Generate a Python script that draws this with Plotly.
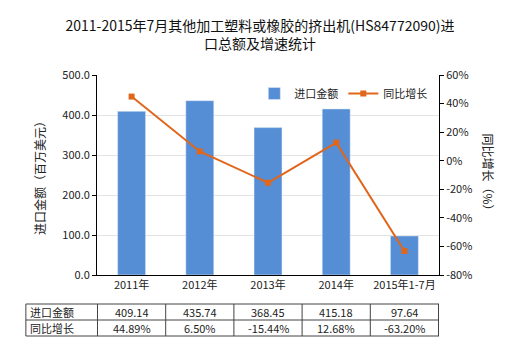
import plotly.graph_objects as go

categories = ["2011年", "2012年", "2013年", "2014年", "2015年1-7月"]
import_values = [409.14, 435.74, 368.45, 415.18, 97.64]
growth_values = [44.89, 6.50, -15.44, 12.68, -63.20]
import_labels = ["409.14", "435.74", "368.45", "415.18", "97.64"]
growth_labels = ["44.89%", "6.50%", "-15.44%", "12.68%", "-63.20%"]
left_ticks = [0, 100, 200, 300, 400, 500]
right_ticks = [-80, -60, -40, -20, 0, 20, 40, 60]

BAR = "#558ED5"
LINE = "#E0661C"
FONT = "Noto Sans CJK SC"

fig = go.Figure()
fig.add_trace(go.Bar(x=categories, y=import_values, name="进口金额",
                     marker_color=BAR, width=0.41, yaxis="y"))
fig.add_trace(go.Scatter(x=categories, y=growth_values, name="同比增长",
                         mode="lines+markers", yaxis="y2",
                         line=dict(color=LINE, width=2),
                         marker=dict(symbol="square", size=6, color=LINE)))

shapes = []
# table geometry (paper coords)
y_top, y_mid, y_bot = -0.145, -0.225, -0.305
x_left = -0.208
for yy in (y_top, y_mid, y_bot):
    shapes.append(dict(type="line", xref="paper", yref="paper", x0=x_left, x1=1.0,
                       y0=yy, y1=yy, line=dict(color="#444", width=1)))
shapes.append(dict(type="line", xref="paper", yref="paper", x0=x_left, x1=x_left,
                   y0=y_top, y1=y_bot, line=dict(color="#444", width=1)))
for i in range(len(categories) + 1):
    shapes.append(dict(type="line", xref="x", yref="paper", x0=i - 0.5, x1=i - 0.5,
                       y0=y_top, y1=y_bot, line=dict(color="#444", width=1)))

annotations = []
for i, c in enumerate(categories):
    annotations.append(dict(x=c, xref="x", y=(y_top + y_mid) / 2, yref="paper",
                            text=import_labels[i], showarrow=False,
                            xanchor="center", yanchor="middle",
                            font=dict(size=11, color="#222", family=FONT)))
    annotations.append(dict(x=c, xref="x", y=(y_mid + y_bot) / 2, yref="paper",
                            text=growth_labels[i], showarrow=False,
                            xanchor="center", yanchor="middle",
                            font=dict(size=11, color="#222", family=FONT)))
annotations.append(dict(x=x_left + 0.005, xref="paper", y=(y_top + y_mid) / 2, yref="paper",
                        text="进口金额", showarrow=False, xanchor="left", yanchor="middle",
                        font=dict(size=11, color="#222", family=FONT)))
annotations.append(dict(x=x_left + 0.005, xref="paper", y=(y_mid + y_bot) / 2, yref="paper",
                        text="同比增长", showarrow=False, xanchor="left", yanchor="middle",
                        font=dict(size=11, color="#222", family=FONT)))
annotations.append(dict(x=1.145, xref="paper", y=0.5, yref="paper", text="同比增长（%）",
                        textangle=90, showarrow=False, xanchor="center", yanchor="middle",
                        font=dict(size=12, color="#222", family=FONT)))

fig.update_layout(
    width=520, height=350,
    margin=dict(l=97, r=81, t=75, b=75),
    paper_bgcolor="white", plot_bgcolor="white",
    font=dict(family=FONT, size=11, color="#222"),
    title=dict(text="2011-2015年7月其他加工塑料或橡胶的挤出机(HS84772090)进<br>口总额及增速统计",
               x=0.5, xanchor="center", y=0.912, yanchor="middle",
               font=dict(size=14, color="#111", family=FONT)),
    bargap=0.5,
    showlegend=True,
    legend=dict(orientation="h", x=0.46, y=0.98, xanchor="left", yanchor="top",
                bgcolor="rgba(0,0,0,0)", font=dict(size=11, family=FONT),
                itemwidth=30),
    xaxis=dict(showline=True, linecolor="#000", ticks="", showgrid=False,
               tickfont=dict(size=11, family=FONT)),
    yaxis=dict(range=[0, 500], tickvals=left_ticks, tickformat=".1f",
               showline=True, linecolor="#000", ticks="outside", ticklen=4,
               tickcolor="#000", showgrid=True, gridcolor="#E3E3E3",
               zeroline=False, tickfont=dict(size=11, family=FONT),
               title=dict(text="进口金额（百万美元）", standoff=14,
                          font=dict(size=12, family=FONT))),
    yaxis2=dict(range=[-80, 60], tickvals=right_ticks,
                ticktext=[f"{v}%" for v in right_ticks],
                overlaying="y", side="right", showline=True, linecolor="#000",
                ticks="outside", ticklen=4, tickcolor="#000", showgrid=False,
                zeroline=False, tickfont=dict(size=11, family=FONT)),
    shapes=shapes, annotations=annotations,
)

fig.write_html("out.html")
